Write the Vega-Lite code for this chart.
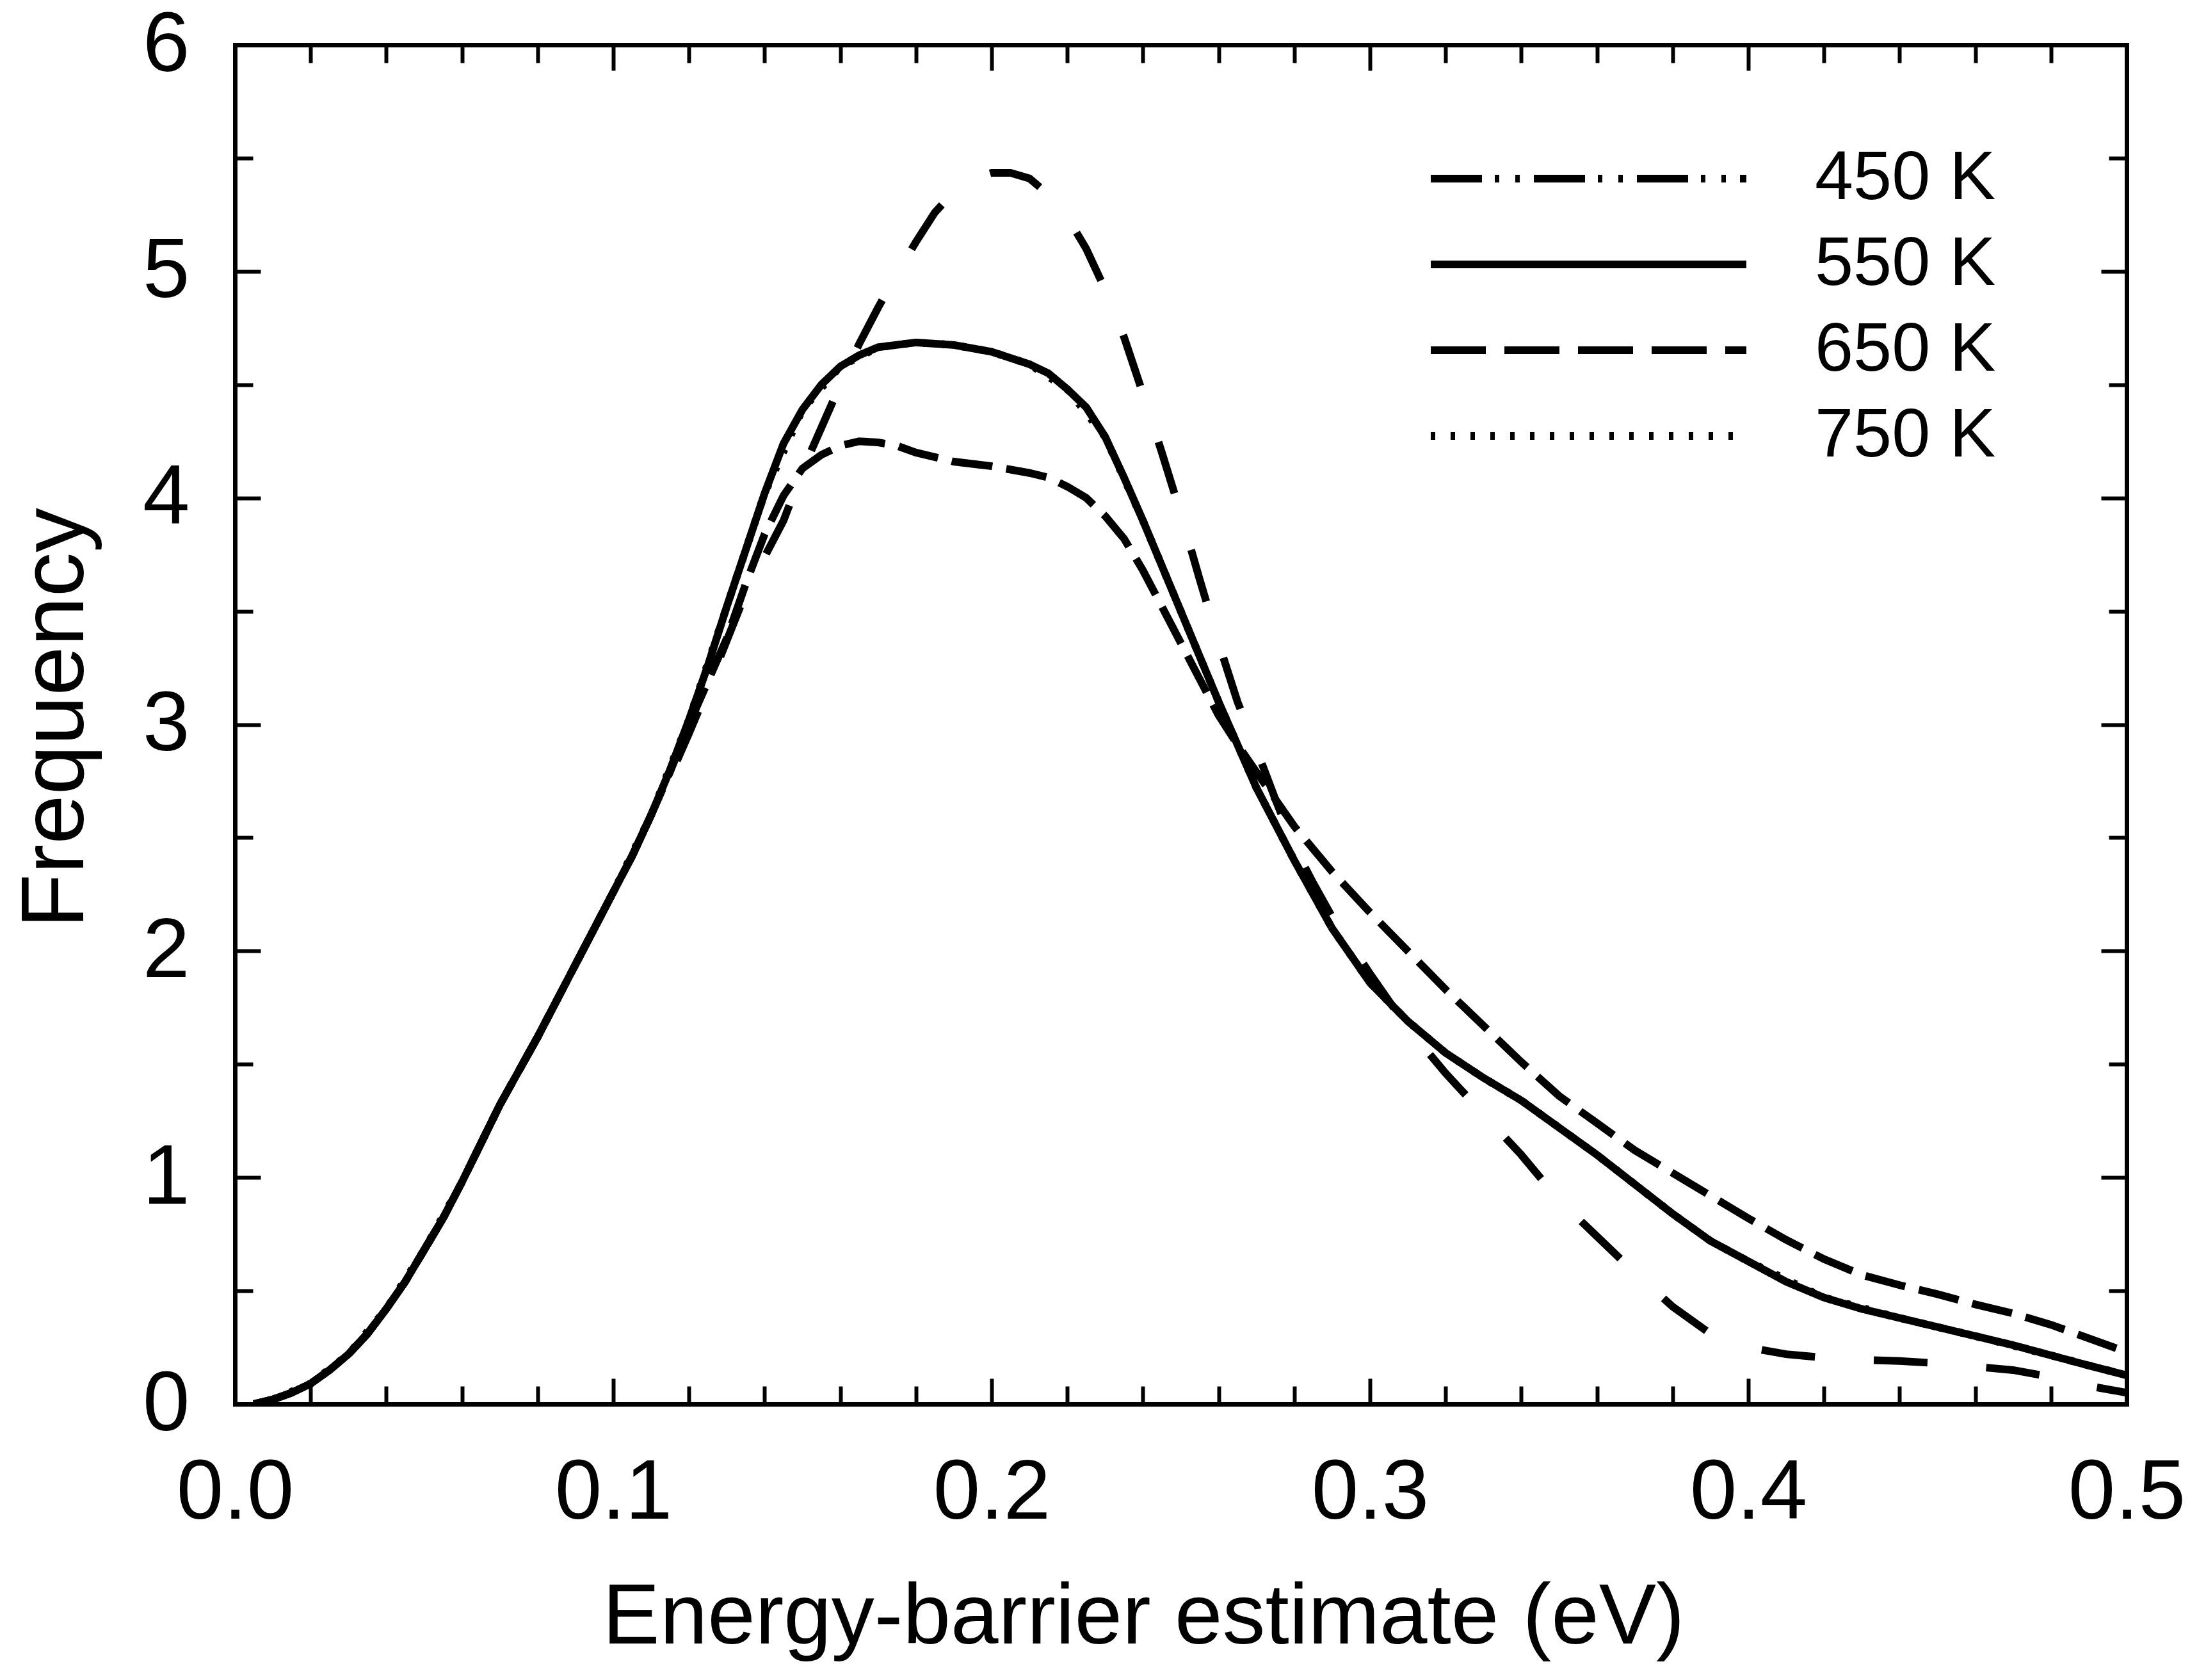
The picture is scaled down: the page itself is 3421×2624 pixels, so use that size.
{
  "$schema": "https://vega.github.io/schema/vega-lite/v6.json",
  "autosize": {"type": "none"},
  "padding": {"left": 367, "top": 70, "right": 99, "bottom": 431},
  "width": 2955,
  "height": 2123,
  "background": "white",
  "config": {
    "view": {"stroke": null},
    "axis": {
      "grid": false,
      "domainColor": "black",
      "domainWidth": 7,
      "domainCap": "square",
      "tickColor": "black",
      "tickWidth": 6,
      "labelFont": "Liberation Sans",
      "labelFontSize": 132,
      "labelColor": "black",
      "labelLimit": 1000,
      "labelFlush": false,
      "labelOverlap": false,
      "labelBound": false,
      "titleFont": "Liberation Sans",
      "titleFontSize": 134,
      "titleFontWeight": "normal",
      "titleColor": "black",
      "titleLimit": 3000
    }
  },
  "data": {
    "values": [
      {"T": "450 K", "E": 0.005, "F": 0}, {"T": "450 K", "E": 0.01, "F": 0.02}, {"T": "450 K", "E": 0.015, "F": 0.05}, {"T": "450 K", "E": 0.02, "F": 0.09},
      {"T": "450 K", "E": 0.025, "F": 0.15}, {"T": "450 K", "E": 0.03, "F": 0.22}, {"T": "450 K", "E": 0.035, "F": 0.31}, {"T": "450 K", "E": 0.04, "F": 0.42},
      {"T": "450 K", "E": 0.045, "F": 0.54}, {"T": "450 K", "E": 0.05, "F": 0.68}, {"T": "450 K", "E": 0.055, "F": 0.82}, {"T": "450 K", "E": 0.06, "F": 0.98},
      {"T": "450 K", "E": 0.065, "F": 1.15}, {"T": "450 K", "E": 0.07, "F": 1.32}, {"T": "450 K", "E": 0.075, "F": 1.47}, {"T": "450 K", "E": 0.08, "F": 1.62},
      {"T": "450 K", "E": 0.085, "F": 1.78}, {"T": "450 K", "E": 0.09, "F": 1.94}, {"T": "450 K", "E": 0.095, "F": 2.1}, {"T": "450 K", "E": 0.1, "F": 2.26},
      {"T": "450 K", "E": 0.105, "F": 2.42}, {"T": "450 K", "E": 0.11, "F": 2.6}, {"T": "450 K", "E": 0.115, "F": 2.79}, {"T": "450 K", "E": 0.12, "F": 3.0},
      {"T": "450 K", "E": 0.125, "F": 3.19}, {"T": "450 K", "E": 0.13, "F": 3.38}, {"T": "450 K", "E": 0.135, "F": 3.62}, {"T": "450 K", "E": 0.14, "F": 3.84},
      {"T": "450 K", "E": 0.145, "F": 4.01}, {"T": "450 K", "E": 0.15, "F": 4.13}, {"T": "450 K", "E": 0.155, "F": 4.19}, {"T": "450 K", "E": 0.16, "F": 4.23},
      {"T": "450 K", "E": 0.165, "F": 4.25}, {"T": "450 K", "E": 0.17, "F": 4.245}, {"T": "450 K", "E": 0.175, "F": 4.23}, {"T": "450 K", "E": 0.18, "F": 4.2},
      {"T": "450 K", "E": 0.19, "F": 4.16}, {"T": "450 K", "E": 0.2, "F": 4.14}, {"T": "450 K", "E": 0.21, "F": 4.11}, {"T": "450 K", "E": 0.215, "F": 4.09},
      {"T": "450 K", "E": 0.22, "F": 4.05}, {"T": "450 K", "E": 0.225, "F": 4.0}, {"T": "450 K", "E": 0.23, "F": 3.92}, {"T": "450 K", "E": 0.235, "F": 3.82},
      {"T": "450 K", "E": 0.24, "F": 3.68}, {"T": "450 K", "E": 0.245, "F": 3.52}, {"T": "450 K", "E": 0.25, "F": 3.36}, {"T": "450 K", "E": 0.255, "F": 3.2},
      {"T": "450 K", "E": 0.26, "F": 3.04}, {"T": "450 K", "E": 0.265, "F": 2.91}, {"T": "450 K", "E": 0.27, "F": 2.79}, {"T": "450 K", "E": 0.28, "F": 2.55},
      {"T": "450 K", "E": 0.29, "F": 2.35}, {"T": "450 K", "E": 0.3, "F": 2.17}, {"T": "450 K", "E": 0.31, "F": 2.0}, {"T": "450 K", "E": 0.32, "F": 1.83},
      {"T": "450 K", "E": 0.33, "F": 1.67}, {"T": "450 K", "E": 0.34, "F": 1.51}, {"T": "450 K", "E": 0.35, "F": 1.36}, {"T": "450 K", "E": 0.36, "F": 1.24},
      {"T": "450 K", "E": 0.37, "F": 1.12}, {"T": "450 K", "E": 0.38, "F": 1.02}, {"T": "450 K", "E": 0.39, "F": 0.92}, {"T": "450 K", "E": 0.4, "F": 0.82},
      {"T": "450 K", "E": 0.41, "F": 0.725}, {"T": "450 K", "E": 0.42, "F": 0.64}, {"T": "450 K", "E": 0.43, "F": 0.57}, {"T": "450 K", "E": 0.44, "F": 0.525},
      {"T": "450 K", "E": 0.45, "F": 0.485}, {"T": "450 K", "E": 0.46, "F": 0.44}, {"T": "450 K", "E": 0.47, "F": 0.4}, {"T": "450 K", "E": 0.48, "F": 0.35},
      {"T": "450 K", "E": 0.49, "F": 0.29}, {"T": "450 K", "E": 0.5, "F": 0.23},

      {"T": "550 K", "E": 0.005, "F": 0}, {"T": "550 K", "E": 0.01, "F": 0.02}, {"T": "550 K", "E": 0.015, "F": 0.05}, {"T": "550 K", "E": 0.02, "F": 0.09},
      {"T": "550 K", "E": 0.025, "F": 0.15}, {"T": "550 K", "E": 0.03, "F": 0.22}, {"T": "550 K", "E": 0.035, "F": 0.31}, {"T": "550 K", "E": 0.04, "F": 0.42},
      {"T": "550 K", "E": 0.045, "F": 0.54}, {"T": "550 K", "E": 0.05, "F": 0.68}, {"T": "550 K", "E": 0.055, "F": 0.82}, {"T": "550 K", "E": 0.06, "F": 0.98},
      {"T": "550 K", "E": 0.065, "F": 1.15}, {"T": "550 K", "E": 0.07, "F": 1.32}, {"T": "550 K", "E": 0.075, "F": 1.47}, {"T": "550 K", "E": 0.08, "F": 1.62},
      {"T": "550 K", "E": 0.085, "F": 1.78}, {"T": "550 K", "E": 0.09, "F": 1.94}, {"T": "550 K", "E": 0.095, "F": 2.1}, {"T": "550 K", "E": 0.1, "F": 2.26},
      {"T": "550 K", "E": 0.105, "F": 2.42}, {"T": "550 K", "E": 0.11, "F": 2.6}, {"T": "550 K", "E": 0.115, "F": 2.8}, {"T": "550 K", "E": 0.12, "F": 3.02},
      {"T": "550 K", "E": 0.125, "F": 3.26}, {"T": "550 K", "E": 0.13, "F": 3.52}, {"T": "550 K", "E": 0.135, "F": 3.77}, {"T": "550 K", "E": 0.14, "F": 4.02},
      {"T": "550 K", "E": 0.145, "F": 4.24}, {"T": "550 K", "E": 0.15, "F": 4.39}, {"T": "550 K", "E": 0.155, "F": 4.5}, {"T": "550 K", "E": 0.16, "F": 4.58},
      {"T": "550 K", "E": 0.165, "F": 4.63}, {"T": "550 K", "E": 0.17, "F": 4.665}, {"T": "550 K", "E": 0.18, "F": 4.686}, {"T": "550 K", "E": 0.19, "F": 4.675},
      {"T": "550 K", "E": 0.2, "F": 4.645}, {"T": "550 K", "E": 0.21, "F": 4.59}, {"T": "550 K", "E": 0.215, "F": 4.55}, {"T": "550 K", "E": 0.22, "F": 4.48},
      {"T": "550 K", "E": 0.225, "F": 4.4}, {"T": "550 K", "E": 0.23, "F": 4.27}, {"T": "550 K", "E": 0.235, "F": 4.09}, {"T": "550 K", "E": 0.24, "F": 3.9},
      {"T": "550 K", "E": 0.245, "F": 3.7}, {"T": "550 K", "E": 0.25, "F": 3.5}, {"T": "550 K", "E": 0.26, "F": 3.1}, {"T": "550 K", "E": 0.27, "F": 2.72},
      {"T": "550 K", "E": 0.28, "F": 2.4}, {"T": "550 K", "E": 0.29, "F": 2.1}, {"T": "550 K", "E": 0.3, "F": 1.86}, {"T": "550 K", "E": 0.31, "F": 1.69},
      {"T": "550 K", "E": 0.32, "F": 1.55}, {"T": "550 K", "E": 0.33, "F": 1.44}, {"T": "550 K", "E": 0.34, "F": 1.34}, {"T": "550 K", "E": 0.35, "F": 1.22},
      {"T": "550 K", "E": 0.36, "F": 1.1}, {"T": "550 K", "E": 0.37, "F": 0.97}, {"T": "550 K", "E": 0.38, "F": 0.84}, {"T": "550 K", "E": 0.39, "F": 0.72},
      {"T": "550 K", "E": 0.4, "F": 0.63}, {"T": "550 K", "E": 0.41, "F": 0.54}, {"T": "550 K", "E": 0.42, "F": 0.47}, {"T": "550 K", "E": 0.43, "F": 0.42},
      {"T": "550 K", "E": 0.44, "F": 0.38}, {"T": "550 K", "E": 0.45, "F": 0.34}, {"T": "550 K", "E": 0.46, "F": 0.3}, {"T": "550 K", "E": 0.47, "F": 0.26},
      {"T": "550 K", "E": 0.48, "F": 0.215}, {"T": "550 K", "E": 0.49, "F": 0.17}, {"T": "550 K", "E": 0.5, "F": 0.127},

      {"T": "650 K", "E": 0.005, "F": 0}, {"T": "650 K", "E": 0.01, "F": 0.02}, {"T": "650 K", "E": 0.015, "F": 0.05}, {"T": "650 K", "E": 0.02, "F": 0.09},
      {"T": "650 K", "E": 0.025, "F": 0.15}, {"T": "650 K", "E": 0.03, "F": 0.22}, {"T": "650 K", "E": 0.035, "F": 0.31}, {"T": "650 K", "E": 0.04, "F": 0.42},
      {"T": "650 K", "E": 0.045, "F": 0.54}, {"T": "650 K", "E": 0.05, "F": 0.68}, {"T": "650 K", "E": 0.055, "F": 0.82}, {"T": "650 K", "E": 0.06, "F": 0.98},
      {"T": "650 K", "E": 0.065, "F": 1.15}, {"T": "650 K", "E": 0.07, "F": 1.32}, {"T": "650 K", "E": 0.075, "F": 1.47}, {"T": "650 K", "E": 0.08, "F": 1.62},
      {"T": "650 K", "E": 0.085, "F": 1.78}, {"T": "650 K", "E": 0.09, "F": 1.94}, {"T": "650 K", "E": 0.095, "F": 2.1}, {"T": "650 K", "E": 0.1, "F": 2.26},
      {"T": "650 K", "E": 0.105, "F": 2.42}, {"T": "650 K", "E": 0.11, "F": 2.6}, {"T": "650 K", "E": 0.115, "F": 2.77}, {"T": "650 K", "E": 0.12, "F": 2.96},
      {"T": "650 K", "E": 0.125, "F": 3.16}, {"T": "650 K", "E": 0.13, "F": 3.37}, {"T": "650 K", "E": 0.135, "F": 3.58}, {"T": "650 K", "E": 0.14, "F": 3.74},
      {"T": "650 K", "E": 0.145, "F": 3.9}, {"T": "650 K", "E": 0.15, "F": 4.12}, {"T": "650 K", "E": 0.155, "F": 4.31}, {"T": "650 K", "E": 0.16, "F": 4.5},
      {"T": "650 K", "E": 0.165, "F": 4.68}, {"T": "650 K", "E": 0.17, "F": 4.84}, {"T": "650 K", "E": 0.175, "F": 4.99}, {"T": "650 K", "E": 0.18, "F": 5.13},
      {"T": "650 K", "E": 0.185, "F": 5.26}, {"T": "650 K", "E": 0.19, "F": 5.35}, {"T": "650 K", "E": 0.195, "F": 5.41}, {"T": "650 K", "E": 0.2, "F": 5.435},
      {"T": "650 K", "E": 0.205, "F": 5.435}, {"T": "650 K", "E": 0.21, "F": 5.41}, {"T": "650 K", "E": 0.215, "F": 5.34}, {"T": "650 K", "E": 0.22, "F": 5.24},
      {"T": "650 K", "E": 0.225, "F": 5.1}, {"T": "650 K", "E": 0.23, "F": 4.92}, {"T": "650 K", "E": 0.235, "F": 4.71}, {"T": "650 K", "E": 0.24, "F": 4.46},
      {"T": "650 K", "E": 0.245, "F": 4.2}, {"T": "650 K", "E": 0.25, "F": 3.93}, {"T": "650 K", "E": 0.255, "F": 3.64}, {"T": "650 K", "E": 0.26, "F": 3.36},
      {"T": "650 K", "E": 0.265, "F": 3.1}, {"T": "650 K", "E": 0.27, "F": 2.89}, {"T": "650 K", "E": 0.275, "F": 2.67}, {"T": "650 K", "E": 0.28, "F": 2.46},
      {"T": "650 K", "E": 0.285, "F": 2.3}, {"T": "650 K", "E": 0.29, "F": 2.15}, {"T": "650 K", "E": 0.3, "F": 1.9}, {"T": "650 K", "E": 0.31, "F": 1.66},
      {"T": "650 K", "E": 0.32, "F": 1.46}, {"T": "650 K", "E": 0.33, "F": 1.28}, {"T": "650 K", "E": 0.34, "F": 1.1}, {"T": "650 K", "E": 0.35, "F": 0.9},
      {"T": "650 K", "E": 0.36, "F": 0.74}, {"T": "650 K", "E": 0.37, "F": 0.58}, {"T": "650 K", "E": 0.38, "F": 0.43}, {"T": "650 K", "E": 0.39, "F": 0.31},
      {"T": "650 K", "E": 0.4, "F": 0.25}, {"T": "650 K", "E": 0.41, "F": 0.22}, {"T": "650 K", "E": 0.42, "F": 0.205}, {"T": "650 K", "E": 0.43, "F": 0.195},
      {"T": "650 K", "E": 0.44, "F": 0.19}, {"T": "650 K", "E": 0.45, "F": 0.18}, {"T": "650 K", "E": 0.46, "F": 0.165}, {"T": "650 K", "E": 0.47, "F": 0.15},
      {"T": "650 K", "E": 0.48, "F": 0.12}, {"T": "650 K", "E": 0.49, "F": 0.08}, {"T": "650 K", "E": 0.5, "F": 0.05},

      {"T": "750 K", "E": 0.005, "F": 0}, {"T": "750 K", "E": 0.01, "F": 0.02}, {"T": "750 K", "E": 0.02, "F": 0.09}, {"T": "750 K", "E": 0.03, "F": 0.22},
      {"T": "750 K", "E": 0.04, "F": 0.42}, {"T": "750 K", "E": 0.05, "F": 0.68}, {"T": "750 K", "E": 0.06, "F": 0.98}, {"T": "750 K", "E": 0.07, "F": 1.32},
      {"T": "750 K", "E": 0.08, "F": 1.62}, {"T": "750 K", "E": 0.09, "F": 1.94}, {"T": "750 K", "E": 0.1, "F": 2.26}, {"T": "750 K", "E": 0.11, "F": 2.6},
      {"T": "750 K", "E": 0.12, "F": 3.02}, {"T": "750 K", "E": 0.13, "F": 3.52}, {"T": "750 K", "E": 0.14, "F": 4.02}, {"T": "750 K", "E": 0.15, "F": 4.39},
      {"T": "750 K", "E": 0.16, "F": 4.58}, {"T": "750 K", "E": 0.17, "F": 4.665}, {"T": "750 K", "E": 0.18, "F": 4.686}, {"T": "750 K", "E": 0.19, "F": 4.675},
      {"T": "750 K", "E": 0.2, "F": 4.645}, {"T": "750 K", "E": 0.21, "F": 4.59}, {"T": "750 K", "E": 0.22, "F": 4.48}, {"T": "750 K", "E": 0.23, "F": 4.27},
      {"T": "750 K", "E": 0.24, "F": 3.9}, {"T": "750 K", "E": 0.25, "F": 3.5}, {"T": "750 K", "E": 0.26, "F": 3.1}, {"T": "750 K", "E": 0.27, "F": 2.72},
      {"T": "750 K", "E": 0.28, "F": 2.4}, {"T": "750 K", "E": 0.29, "F": 2.1}, {"T": "750 K", "E": 0.3, "F": 1.86}, {"T": "750 K", "E": 0.31, "F": 1.69},
      {"T": "750 K", "E": 0.32, "F": 1.55}, {"T": "750 K", "E": 0.33, "F": 1.44}, {"T": "750 K", "E": 0.34, "F": 1.34}, {"T": "750 K", "E": 0.35, "F": 1.22},
      {"T": "750 K", "E": 0.36, "F": 1.1}, {"T": "750 K", "E": 0.37, "F": 0.97}, {"T": "750 K", "E": 0.38, "F": 0.84}, {"T": "750 K", "E": 0.39, "F": 0.72},
      {"T": "750 K", "E": 0.4, "F": 0.63}, {"T": "750 K", "E": 0.42, "F": 0.47}, {"T": "750 K", "E": 0.44, "F": 0.38}, {"T": "750 K", "E": 0.46, "F": 0.3},
      {"T": "750 K", "E": 0.48, "F": 0.215}, {"T": "750 K", "E": 0.5, "F": 0.127}
    ]
  },
  "resolve": {
    "axis": {"x": "independent", "y": "independent"},
    "scale": {"strokeDash": "independent"},
    "legend": {"strokeDash": "independent"}
  },
  "layer": [
    {
      "mark": {"type": "line", "color": "black", "strokeWidth": 12, "clip": true},
      "encoding": {
        "x": {
          "field": "E", "type": "quantitative",
          "scale": {"domain": [0, 0.5], "nice": false, "zero": false},
          "axis": {
            "orient": "bottom", "title": "Energy-barrier estimate (eV)",
            "values": [0, 0.1, 0.2, 0.3, 0.4, 0.5], "format": ".1f",
            "tickSize": -40, "labelPadding": 114, "titlePadding": 67, "titleX": 1419
          }
        },
        "y": {
          "field": "F", "type": "quantitative",
          "scale": {"domain": [0, 6], "nice": false, "zero": false},
          "axis": {
            "orient": "left", "title": "Frequency",
            "values": [0, 1, 2, 3, 4, 5, 6], "format": "d",
            "tickSize": -40, "labelPadding": 111, "titlePadding": 64,
            "titleFontSize": 139, "titleY": 1051
          }
        },
        "strokeDash": {
          "field": "T", "type": "nominal",
          "scale": {
            "domain": ["450 K", "550 K", "650 K", "750 K"],
            "range": [[64, 22], [1, 0], [84, 92], [6, 24]]
          },
          "legend": null
        }
      }
    },
    {
      "transform": [{"filter": "datum.E === 0.005"}],
      "mark": {"type": "line", "color": "black", "strokeWidth": 12},
      "encoding": {
        "x": {
          "field": "E", "type": "quantitative",
          "scale": {"domain": [0, 0.5], "nice": false, "zero": false},
          "axis": null
        },
        "y": {
          "field": "F", "type": "quantitative",
          "scale": {"domain": [0, 6], "nice": false, "zero": false},
          "axis": null
        },
        "strokeDash": {
          "field": "T", "type": "nominal",
          "scale": {
            "domain": ["450 K", "550 K", "650 K", "750 K"],
            "range": [[80, 20, 7, 25, 7, 22], [1, 0], [86, 29], [7, 24]]
          },
          "legend": {
            "orient": "none", "legendX": 1862, "legendY": 149,
            "title": null, "symbolType": "stroke", "symbolSize": 243049,
            "symbolStrokeWidth": 12, "symbolStrokeColor": "black",
            "labelFont": "Liberation Sans", "labelFontSize": 108, "labelColor": "black",
            "labelLimit": 1000, "labelOffset": 101, "clipHeight": 120, "rowPadding": 14
          }
        }
      }
    },
    {
      "mark": {"type": "line", "strokeOpacity": 0},
      "encoding": {
        "x": {
          "field": "E", "type": "quantitative",
          "scale": {"domain": [0, 0.5], "nice": false, "zero": false},
          "axis": {
            "orient": "bottom", "title": null, "labels": false, "domain": false,
            "values": [0.02, 0.04, 0.06, 0.08, 0.12, 0.14, 0.16, 0.18, 0.22, 0.24, 0.26, 0.28, 0.32, 0.34, 0.36, 0.38, 0.42, 0.44, 0.46, 0.48],
            "tickSize": -28
          }
        },
        "y": {
          "field": "F", "type": "quantitative",
          "scale": {"domain": [0, 6], "nice": false, "zero": false},
          "axis": {
            "orient": "left", "title": null, "labels": false, "domain": false,
            "values": [0.5, 1.5, 2.5, 3.5, 4.5, 5.5],
            "tickSize": -28
          }
        },
        "detail": {"field": "T"}
      }
    },
    {
      "mark": {"type": "line", "strokeOpacity": 0},
      "encoding": {
        "x": {
          "field": "E", "type": "quantitative",
          "scale": {"domain": [0, 0.5], "nice": false, "zero": false},
          "axis": {
            "orient": "top", "title": null, "labels": false,
            "values": [0, 0.1, 0.2, 0.3, 0.4, 0.5],
            "tickSize": -40
          }
        },
        "y": {
          "field": "F", "type": "quantitative",
          "scale": {"domain": [0, 6], "nice": false, "zero": false},
          "axis": {
            "orient": "right", "title": null, "labels": false,
            "values": [0, 1, 2, 3, 4, 5, 6],
            "tickSize": -40
          }
        },
        "detail": {"field": "T"}
      }
    },
    {
      "mark": {"type": "line", "strokeOpacity": 0},
      "encoding": {
        "x": {
          "field": "E", "type": "quantitative",
          "scale": {"domain": [0, 0.5], "nice": false, "zero": false},
          "axis": {
            "orient": "top", "title": null, "labels": false, "domain": false,
            "values": [0.02, 0.04, 0.06, 0.08, 0.12, 0.14, 0.16, 0.18, 0.22, 0.24, 0.26, 0.28, 0.32, 0.34, 0.36, 0.38, 0.42, 0.44, 0.46, 0.48],
            "tickSize": -28
          }
        },
        "y": {
          "field": "F", "type": "quantitative",
          "scale": {"domain": [0, 6], "nice": false, "zero": false},
          "axis": {
            "orient": "right", "title": null, "labels": false, "domain": false,
            "values": [0.5, 1.5, 2.5, 3.5, 4.5, 5.5],
            "tickSize": -28
          }
        },
        "detail": {"field": "T"}
      }
    }
  ]
}
